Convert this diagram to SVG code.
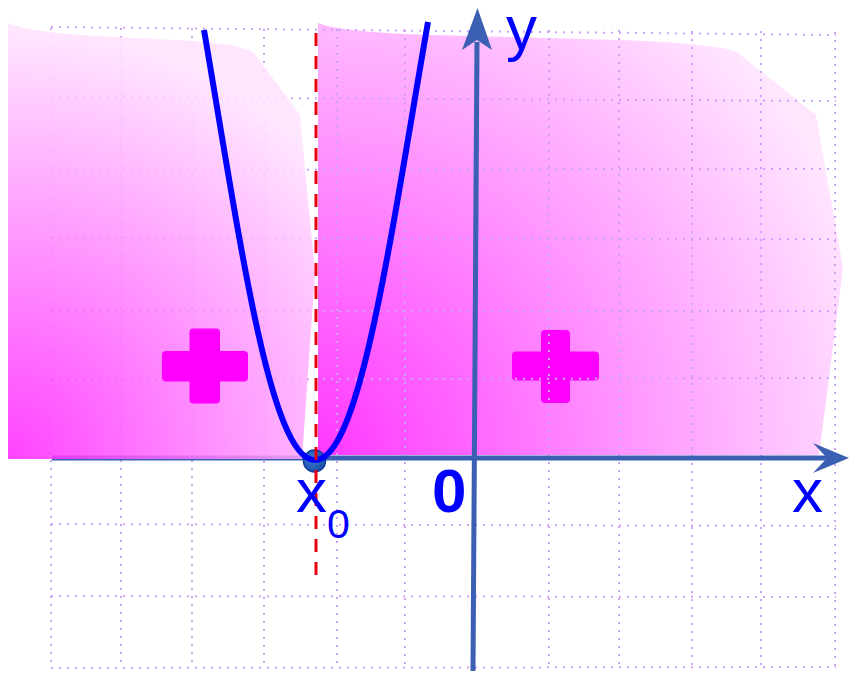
<svg xmlns="http://www.w3.org/2000/svg" width="850" height="673" viewBox="0 0 850 673">
<defs>
<radialGradient id="gR" gradientUnits="userSpaceOnUse" cx="318" cy="455" r="580">
<stop offset="0" stop-color="#ff38ff"/>
<stop offset="1" stop-color="#ffe6ff"/>
</radialGradient>
<radialGradient id="gL" gradientUnits="userSpaceOnUse" cx="8" cy="459" r="430">
<stop offset="0" stop-color="#ff22ff"/>
<stop offset="1" stop-color="#ffe2ff"/>
</radialGradient>
<radialGradient id="gDot" cx="0.4" cy="0.4" r="0.6">
<stop offset="0" stop-color="#3d80d4"/>
<stop offset="1" stop-color="#1a4fa6"/>
</radialGradient>
</defs>
<style>
.grid line{stroke:#cca2f7;stroke-width:2;stroke-dasharray:2 6;fill:none}
.plus{fill:#ff00ff}
.axis{stroke:#3b5fb3;stroke-width:5;fill:none}
.head{fill:#3b5fb3}
.lbl{font-family:"Liberation Sans",Arial,sans-serif;fill:#0000ff}
</style>
<g id="region-right">
<path d="M318,23 Q340,32 430,35 L620,40 Q725,44 738,53 L816,115 L843,268 L819,455 L318,455 Z" fill="url(#gR)"/>
</g>
<g id="plus-right">
<rect class="plus" x="512" y="351.5" width="87" height="29" rx="4"/>
<rect class="plus" x="541" y="330" width="29" height="73" rx="4"/>
</g>
<g id="grid" class="grid">
<line x1="51" y1="28" x2="51" y2="668"/>
<line x1="121" y1="28" x2="121" y2="668"/>
<line x1="192" y1="28" x2="192" y2="668"/>
<line x1="264" y1="29" x2="264" y2="668"/>
<line x1="337" y1="29" x2="337" y2="668"/>
<line x1="405" y1="30" x2="405" y2="668"/>
<line x1="549" y1="30" x2="549" y2="668"/>
<line x1="619" y1="30" x2="619" y2="668"/>
<line x1="692" y1="31" x2="692" y2="668"/>
<line x1="761" y1="31" x2="761" y2="668"/>
<line x1="835" y1="32" x2="835" y2="668"/>
<line x1="51" y1="27" x2="836" y2="35"/>
<line x1="51" y1="97" x2="836" y2="101"/>
<line x1="51" y1="170" x2="836" y2="169"/>
<line x1="51" y1="238" x2="836" y2="239"/>
<line x1="51" y1="311" x2="836" y2="311"/>
<line x1="51" y1="380" x2="836" y2="378"/>
<line x1="51" y1="524" x2="836" y2="526"/>
<line x1="51" y1="596" x2="836" y2="597"/>
<line x1="51" y1="668" x2="836" y2="667"/>
</g>
<g id="x-axis">
<line class="axis" x1="52" y1="458" x2="830" y2="458"/>
<polygon class="head" points="849,458 813,443 827,458 813,473"/>
</g>
<g id="y-axis">
<line class="axis" x1="473" y1="671" x2="477" y2="42"/>
<polygon class="head" points="477.5,8 462,50 477,40 492,50"/>
</g>
<g id="region-left">
<path d="M8,23 Q30,33 117,37 L193,41 Q240,44 254,53 L300,115 L315,272 L302,459 L8,459 Z" fill="url(#gL)" opacity="0.85"/>
</g>
<g id="plus-left">
<rect class="plus" x="162" y="351" width="86" height="30.5" rx="4"/>
<rect class="plus" x="189.5" y="328.5" width="30.5" height="75" rx="4"/>
</g>
<g id="x0-point">
<circle cx="314.5" cy="461" r="11" fill="url(#gDot)" stroke="#0d3d9e" stroke-width="1.5"/>
</g>
<g id="parabola">
<path d="M204,30 C240,240 270,460 315,460 C360,460 390,240 428,22" fill="none" stroke="#0000ff" stroke-width="6"/>
</g>
<g id="x0-line">
<line x1="316" y1="33" x2="316" y2="585" stroke="#e8000e" stroke-width="3" stroke-dasharray="13 10"/>
</g>
<g id="labels">
<text class="lbl" x="506" y="49" font-size="62">y</text>
<text class="lbl" x="792" y="512" font-size="62">x</text>
<text class="lbl" x="432" y="512" font-size="62" font-weight="bold">0</text>
<text class="lbl" x="296" y="512" font-size="62">x</text>
<text class="lbl" x="327" y="538" font-size="41">0</text>
</g>
</svg>
